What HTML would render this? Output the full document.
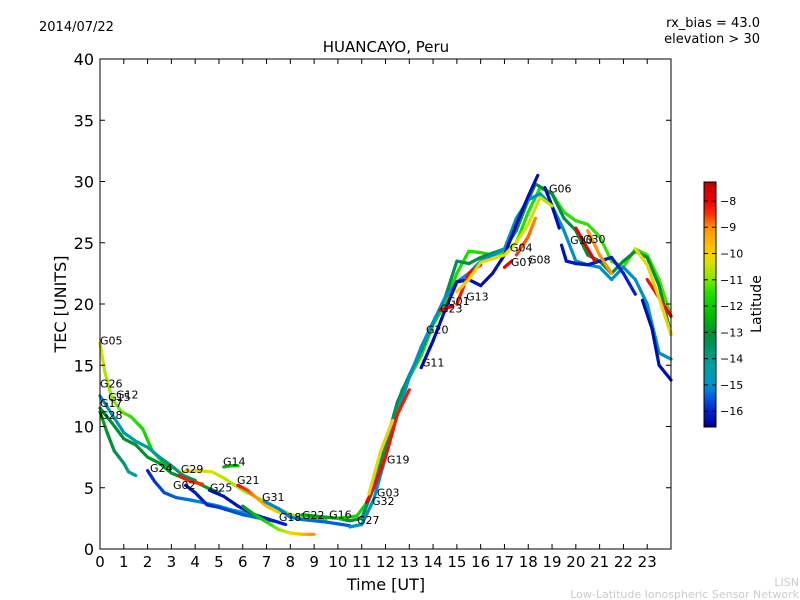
<!DOCTYPE html>
<html><head><meta charset="utf-8"><style>
body{margin:0;background:#fff;}
svg{display:block;font-family:"DejaVu Sans","Liberation Sans",sans-serif;}
</style></head><body>
<svg id="c" width="800" height="600" viewBox="0 0 800 600">
<rect width="800" height="600" fill="#fff"/>
<text x="39" y="31" font-size="13">2014/07/22</text>
<text x="760" y="27" font-size="13" text-anchor="end">rx_bias = 43.0</text>
<text x="760" y="43" font-size="13" text-anchor="end">elevation &gt; 30</text>
<text x="386" y="52" font-size="15" text-anchor="middle">HUANCAYO, Peru</text>
<text x="386" y="590" font-size="16" text-anchor="middle">Time [UT]</text>
<text x="0" y="0" font-size="16" text-anchor="middle" transform="translate(66,304) rotate(-90)">TEC [UNITS]</text>
<g id="tracks"></g>
<g id="labels"></g>
<rect x="100" y="59" width="571" height="490" fill="none" stroke="#000" stroke-width="1"/>
<g id="axes"></g>
<defs><linearGradient id="cbg" x1="0" y1="1" x2="0" y2="0"></linearGradient></defs>
<rect x="704" y="182" width="12" height="245" fill="url(#cbg)" stroke="#000" stroke-width="1"/>
<g id="cbticks"></g>
<text x="0" y="0" font-size="14" text-anchor="middle" transform="translate(761,304) rotate(-90)">Latitude</text>
<text x="799" y="586" font-size="11" fill="#ccc" text-anchor="end">LISN</text>
<text x="799" y="598" font-size="11" fill="#ccc" text-anchor="end">Low-Latitude Ionospheric Sensor Network</text>
</svg>
<script>
const xTicks=[0,1,2,3,4,5,6,7,8,9,10,11,12,13,14,15,16,17,18,19,20,21,22,23];
const yTicks=[0,5,10,15,20,25,30,35,40];
const cbTicks=[-8,-9,-10,-11,-12,-13,-14,-15,-16];
const trackTimes=[
[0,0.2,0.5,0.9,1.3,1.8,2.2,2.7,3.0],
[0,0.3,0.6,1.0,1.2,1.5],
[0,0.5,1.0,1.5,2.0,2.5,3.0,3.5,4.0],
[0,0.5,1.0,1.5,2.0,2.5,3.0,3.5,4.0,4.5,5.0],
[2.0,2.3,2.7,3.2,3.8,4.3,5.0,5.5,6.0,6.5],
[3.6,4.0,4.5,5.0,5.5,6.0,6.5,7.0,7.5],
[3.3,3.8,4.3],
[3.5,4.0,4.7,5.2,6.0,7.0,8.0,9.0],
[5.2,5.5,5.8],
[5.8,6.2,6.5,7.0,7.5,8.0,8.5,9.5],
[4.6,5.2,5.8,6.5,7.3,7.8],
[6.9,7.5,8.0,8.5,9.5,10.5],
[6.0,6.5,7.0,7.5,8.0,8.5,9.0],
[8.5,9.0,9.5,10.0,10.5,11.0],
[10.0,10.8,11.3,11.8,12.3,12.7,13.0,13.5,14.0,14.5,15.0,15.5,16.0,16.5,17.0,17.5,18.0,18.5,19.0,19.5,20.0,20.5,21.0,21.5,22.0,22.5,23.0,23.5,24.0],
[11.0,11.5,12.0,12.5,13.0,13.5,14.0,14.5,15.0,15.5,16.0,17.0,17.5,18.0,18.3,19.0,19.5,20.0,20.5,21.0,21.5,22.0,22.5,23.0,23.5,24.0],
[10.5,11.0,11.5,12.0,12.5,13.0,13.5,14.0,14.5,15.0,15.5,16.0,17.0,17.5,18.0,18.5,19.0,19.5,20.0,20.5,21.0,21.5,22.0,22.5,23.0,23.5,24.0],
[13.5,14.0,14.5,15.0,15.5,16.0,16.5,17.0,17.5,18.0,18.4],
[18.7,19.0,19.3],
[19.4,19.6,20.0,20.5,21.0,21.5,22.0,22.5],
[22.8,23.2,23.5,24.0],
[11.2,11.5,12.0,12.5,13.0],
[14.3,14.8],
[15.0,15.5,16.0],
[17.0,17.3],
[17.5,18.0,18.3],
[20.0,20.5,20.8],
[23.0,23.5,24.0],
[11.3,11.8,12.3],
[15.0,15.5,16.0,17.0,17.5,18.0,18.5,19.0],
[20.5,21.0,21.5],
[22.5,23.0,23.5,24.0]
];
const trackTec=[
[16.8,14.5,12.3,11.2,10.8,9.8,8.0,7.0,6.6],
[11.2,9.5,8.0,7.0,6.3,6.0],
[12.5,11.0,9.5,8.8,8.3,7.5,6.8,6.0,5.6],
[11.5,10.3,9.0,8.5,7.5,7.0,6.2,5.8,5.5,5.0,4.6],
[6.4,5.5,4.6,4.2,4.0,3.8,3.5,3.2,3.0,2.8],
[5.2,4.6,3.6,3.4,3.1,2.8,2.6,2.4,2.2],
[6.0,5.5,5.3],
[6.3,6.4,6.3,5.8,4.8,3.8,2.8,2.4],
[6.7,6.8,6.8],
[5.2,4.8,4.3,3.5,3.0,2.8,2.6,2.4],
[4.8,4.3,3.5,2.8,2.3,2.0],
[3.9,3.3,2.6,2.4,2.2,1.9],
[3.5,2.8,2.2,1.6,1.3,1.2,1.2],
[2.8,2.7,2.6,2.5,2.3,2.5],
[2.5,2.7,4.0,7.0,10.5,13.0,14.0,15.8,18.3,20.0,22.5,24.3,24.2,24.0,24.2,25.0,27.5,29.5,29.0,27.5,26.8,26.5,25.5,23.5,23.0,24.5,24.0,22.0,19.0],
[2.5,5.0,8.5,12.0,14.2,16.2,18.5,20.5,23.5,23.3,23.8,24.5,26.0,28.5,29.8,29.0,27.0,26.0,24.0,23.5,22.5,23.5,24.3,23.8,21.5,17.5],
[1.8,2.0,4.0,7.5,11.0,14.0,16.5,18.5,20.5,21.8,22.5,23.5,24.5,27.0,28.5,29.0,28.0,26.0,23.5,23.2,23.0,22.0,23.0,22.0,20.0,16.0,15.5],
[14.8,17.0,19.5,21.8,22.0,21.5,22.5,24.0,26.5,28.8,30.5],
[29.5,28.0,26.2],
[24.8,23.5,23.3,23.2,23.5,23.8,22.5,20.8],
[20.3,18.0,15.0,13.8],
[3.8,5.0,7.5,11.0,13.0],
[19.5,19.8],
[20.0,22.5,23.2],
[23.0,23.5],
[24.0,25.5,27.0],
[26.2,24.5,23.5],
[22.0,20.5,19.0],
[4.5,8.0,10.5],
[21.0,22.0,23.4,24.0,25.0,26.5,28.7,28.0],
[26.0,24.0,22.5],
[24.5,23.2,20.5,17.5]
];
const trackLatStart=[-10.3,-12.5,-15.0,-13.0,-16.0,-16.3,-8.2,-9.8,-12.5,-8.0,-16.3,-15.0,-13.0,-12.5,-11.8,-13.5,-15.0,-16.3,-16.3,-16.2,-16.3,-8.0,-8.0,-8.3,-8.0,-8.5,-8.0,-8.2,-10.2,-10.0,-9.2,-10.3];
const trackLatEnd=[-12.5,-14.5,-13.5,-12.8,-14.3,-15.0,-8.5,-11.5,-12.0,-11.5,-16.0,-15.5,-9.0,-13.0,-11.3,-13.0,-15.0,-16.3,-16.3,-16.0,-16.3,-8.3,-8.0,-8.0,-8.0,-9.0,-8.0,-8.0,-10.0,-10.5,-9.0,-10.0];
const labelNames=["G05","G26","G15","G12","G17","G28","G24","G29","G02","G14","G25","G21","G31","G18","G22","G16","G27","G19","G03","G32","G11","G20","G23","G01","G13","G04","G07","G08","G06","G10","G30"];
const labelTimes=[0,0,0.34,0.67,0,0,2.1,3.4,3.07,5.17,4.62,5.76,6.81,7.52,8.49,9.63,10.8,12.06,11.64,11.43,13.53,13.7,14.29,14.59,15.39,17.23,17.27,17.99,18.87,19.76,20.3];
const labelTec=[16.7,13.2,12.1,12.3,11.6,10.6,6.3,6.2,4.9,6.8,4.7,5.3,3.9,2.3,2.45,2.5,2.04,7.0,4.3,3.6,14.9,17.6,19.3,19.9,20.3,24.3,23.1,23.3,29.1,24.9,25.0];

const NS="http://www.w3.org/2000/svg";
const X0=100,X1=671,Y0=549,Y1=59;
const xs=t=>X0+t*(X1-X0)/24;
const ys=v=>Y0-v*(Y0-Y1)/40;
const LATMIN=-16.6,LATMAX=-7.28,CB0=427,CB1=182;
const cy=l=>CB0-(l-LATMIN)*(CB0-CB1)/(LATMAX-LATMIN);
const stops=[[-16.6,[0,0,139]],[-16,[0,32,208]],[-15.3,[0,112,224]],[-15,[0,144,200]],[-14.3,[0,160,160]],[-13.5,[0,144,96]],[-13,[0,144,48]],[-12.3,[0,192,0]],[-11.5,[32,224,0]],[-11,[128,232,0]],[-10.3,[224,224,0]],[-9.7,[255,192,0]],[-9,[255,144,0]],[-8.5,[255,48,0]],[-8,[238,0,0]],[-7.28,[192,0,0]]];
function col(l){
  if(l<=stops[0][0])return 'rgb('+stops[0][1]+')';
  for(let i=1;i<stops.length;i++){if(l<=stops[i][0]){const a=stops[i-1],b=stops[i],f=(l-a[0])/(b[0]-a[0]);return 'rgb('+a[1].map((v,k)=>Math.round(v+(b[1][k]-v)*f)).join(',')+')';}}
  return 'rgb('+stops[stops.length-1][1]+')';
}
function mk(tag,attrs,parent){const e=document.createElementNS(NS,tag);for(const k in attrs)e.setAttribute(k,attrs[k]);parent.appendChild(e);return e;}
const g=document.getElementById('cbg');
for(const s of stops){mk('stop',{offset:((s[0]-LATMIN)/(LATMAX-LATMIN)).toFixed(4),'stop-color':col(s[0])},g);}
const tg=document.getElementById('tracks');
trackTimes.forEach((tt,i)=>{
  const grp=mk('g',{},tg);
  
  
  const n=tt.length;
  for(let j=0;j<n-1;j++){
    const steps=4;
    for(let s=0;s<steps;s++){
      const f0=s/steps,f1=(s+1)/steps;
      const t0=tt[j]+(tt[j+1]-tt[j])*f0,t1=tt[j]+(tt[j+1]-tt[j])*f1;
      const v0=trackTec[i][j]+(trackTec[i][j+1]-trackTec[i][j])*f0,v1=trackTec[i][j]+(trackTec[i][j+1]-trackTec[i][j])*f1;
      const fr=(j+(f0+f1)/2)/(n-1);
      const lat=trackLatStart[i]+(trackLatEnd[i]-trackLatStart[i])*fr;
      const ln=mk('line',{x1:xs(t0),y1:ys(v0),x2:xs(t1),y2:ys(v1),stroke:col(lat),'stroke-width':3.2,'stroke-linecap':'round'},grp);
      
      
    }
  }
});
const lg=document.getElementById('labels');
labelNames.forEach((nm,i)=>{
  const t=mk('text',{x:xs(labelTimes[i]),y:ys(labelTec[i]),'font-size':11},lg);
  t.textContent=nm;
  
  
});
const ag=document.getElementById('axes');
xTicks.forEach(v=>{
  const x=xs(v);
  mk('line',{x1:x,y1:Y0,x2:x,y2:Y0-5,stroke:'#000'},ag);
  mk('line',{x1:x,y1:Y1,x2:x,y2:Y1+5,stroke:'#000'},ag);
  const t=mk('text',{x:x,y:567,'font-size':15,'text-anchor':'middle'},ag);
  t.textContent=v;
  
  
});
yTicks.forEach(v=>{
  const y=ys(v);
  mk('line',{x1:X0,y1:y,x2:X0+5,y2:y,stroke:'#000'},ag);
  mk('line',{x1:X1,y1:y,x2:X1-5,y2:y,stroke:'#000'},ag);
  const t=mk('text',{x:94,y:y+6,'font-size':16,'text-anchor':'end'},ag);
  t.textContent=v;
  
  
});
const cg=document.getElementById('cbticks');
cbTicks.forEach(v=>{
  const y=cy(v);
  mk('line',{x1:704,y1:y,x2:708,y2:y,stroke:'#000'},cg);
  mk('line',{x1:716,y1:y,x2:712,y2:y,stroke:'#000'},cg);
  const t=mk('text',{x:720,y:y+4,'font-size':11},cg);
  t.textContent='\u2212'+Math.abs(v);
  
  
});
</script>
</body></html>
